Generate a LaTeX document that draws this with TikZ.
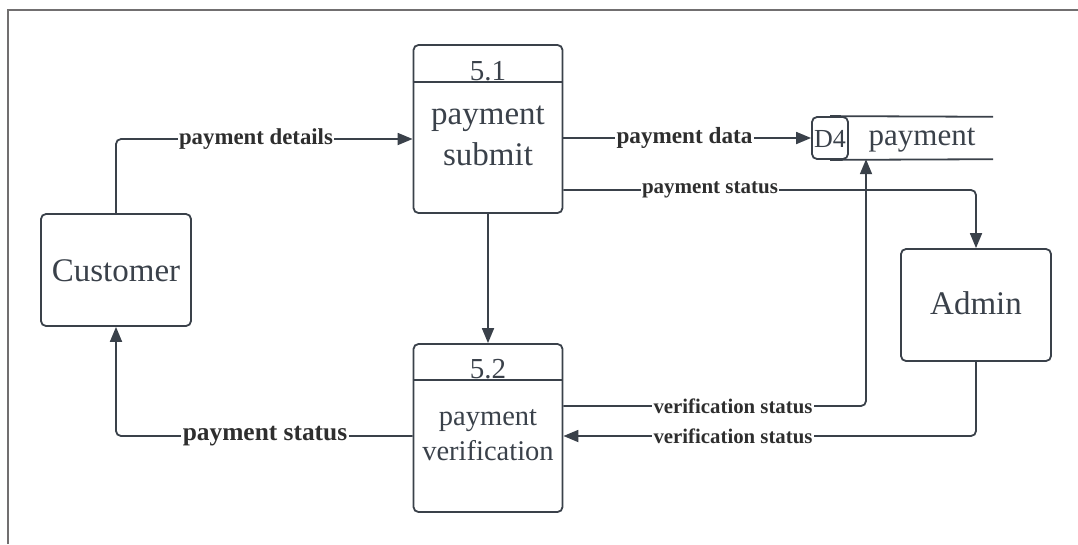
\documentclass[tikz,border=0pt]{standalone}
\usepackage{fontspec}
\setmainfont{Liberation Serif}
\usetikzlibrary{arrows.meta}
\definecolor{ink}{HTML}{3A414A}
\definecolor{framegray}{HTML}{716F70}
\definecolor{lbl}{HTML}{2E2E2E}
\newcommand{\fsz}[1]{\fontsize{#1}{#1}\selectfont}
\tikzset{
  x=1pt, y=-1pt,
  box/.style={draw=ink, line width=1.8pt, rounded corners=5pt, inner sep=0pt},
  proc/.style={box, minimum width=149pt, minimum height=168pt},
  ent/.style={box, minimum width=150pt, minimum height=112pt},
  flow/.style={draw=ink, line width=1.8pt, rounded corners=5pt,
               -{Triangle[length=15pt,width=12pt]}},
  big/.style={text=ink, font=\fsz{33}, inner sep=0pt, anchor=base},
  mid/.style={big, font=\fsz{28.5}},
  num/.style={text=ink, font=\fsz{29}, inner sep=0pt, anchor=base},
  lab/.style={fill=white, text=lbl, font=\bfseries\fsz{21},
              inner xsep=1.5pt, inner ysep=0pt}
}
\begin{document}
\begin{tikzpicture}
\useasboundingbox (0,0) rectangle (1078,544);
% outer frame (only top and left edges fall inside the page)
\draw[framegray, line width=2pt] (7.5,544) -- (7.5,10) -- (1078,10);

% external entities
\node[ent] (cust) at (116,270) {};
\node[big] (custt) at (116,281) {Customer};
\node[ent] (adm) at (976,305) {};
\node[big] (admt) at (976,314) {Admin};

% process 5.1
\node[proc] (p51) at (488,129) {};
\draw[ink, line width=1.8pt] (p51.west |- 0,82) -- (p51.east |- 0,82);
\node[num] (p51n) at (488,80) {5.1};
\node[big] (p51a) at (488,124) {payment};
\node[big] (p51b) at (488,165) {submit};

% process 5.2
\node[proc] (p52) at (488,428) {};
\draw[ink, line width=1.8pt] (p52.west |- 0,380) -- (p52.east |- 0,380);
\node[num] (p52n) at (488,378) {5.2};
\node[mid] (p52a) at (488,425) {payment};
\node[mid] (p52b) at (488,460) {verification};

% data store D4
\node[box, minimum width=36pt, minimum height=42pt] (d4) at (830,138) {};
\node[inner sep=0pt, minimum width=145pt, minimum height=42pt] (st) at (920.5,138) {};
\draw[ink, line width=1.8pt] (d4.north) -- (st.north east);
\draw[ink, line width=1.8pt] (d4.south) -- (st.south east);
\node[num, font=\fsz{26}] (d4t) at (830,147) {D4};
\node[big, font=\fsz{31}] (stt) at (922,145) {payment};

% data flows
\draw[flow] (cust.north) |- (p51.west |- 0,139);
\draw[flow] (p51.east |- d4.west) -- (d4.west);
\draw[flow] (p51.east |- 0,190) -| (adm.north);
\draw[flow] (p51.south) -- (p52.north);
\draw[flow] (p52.east |- 0,406) -| (st.south -| 866,0);
\draw[flow] (adm.south) |- (p52.east |- 0,436);
\draw[flow] (p52.west |- 0,436) -| (cust.south);

% flow labels
\node[lab, font=\bfseries\fsz{22.8}] (l1) at (256,139) {payment details};
\node[lab, font=\bfseries\fsz{23.2}] (l2) at (684.5,138) {payment data};
\node[lab] (l3) at (710,190) {payment status};
\node[lab, font=\bfseries\fsz{20.8}] (l4) at (733,406) {verification status};
\node[lab, font=\bfseries\fsz{20.8}] (l5) at (733,436) {verification status};
\node[lab, font=\bfseries\fsz{25.4}] (l6) at (265,436) {payment status};
\end{tikzpicture}
\end{document}
